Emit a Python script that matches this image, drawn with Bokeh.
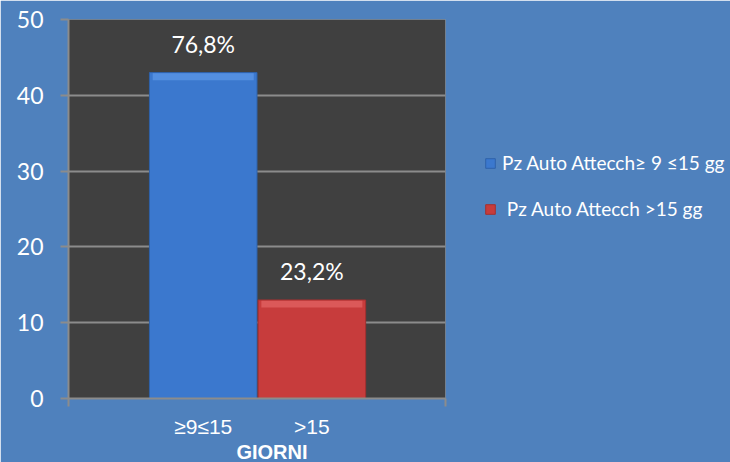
from bokeh.plotting import figure
from bokeh.models import Range1d, FixedTicker, Legend, LegendItem, LinearAxis
from bokeh.embed import file_html
from bokeh.resources import INLINE
from bokeh.core.properties import value

categories = ["≥9≤15", ">15"]
series_names = ["Pz Auto Attecch≥ 9 ≤15 gg", "\u2005Pz Auto Attecch >15 gg"]
counts = [43, 13]
percent_labels = ["76,8%", "23,2%"]
y_ticks = [0, 10, 20, 30, 40, 50]
x_title = "\u2003\u2002GIORNI"

bar_colors = ["#3B78CE", "#C73C3C"]
bevel_colors = ["#5A95E6", "#E06060"]
edge_colors = ["#2F62AA", "#A33030"]

BG = "#4F81BD"
FRAME = "#404040"
GRID = "#8C8C8C"

x_left, x_right = -1.24, 2.23

p = figure(frame_width=377, frame_height=379,
           x_range=Range1d(x_left, x_right), y_range=Range1d(0, 50),
           output_backend="svg", toolbar_location=None,
           min_border_left=68, min_border_right=285,
           min_border_top=19, min_border_bottom=64)
p.border_fill_color = BG
p.background_fill_color = FRAME
p.outline_line_color = None

# x axis: only frame-edge ticks
p.xaxis.ticker = FixedTicker(ticks=[x_left, x_right])
p.xaxis.major_label_text_font_size = "0px"
p.xaxis.major_label_standoff = 0
p.xaxis.major_tick_out = 8
p.xaxis.major_tick_in = 0
p.xaxis.minor_tick_line_color = None
p.xaxis.axis_line_color = GRID
p.xaxis.axis_line_width = 2
p.xaxis.major_tick_line_color = GRID
p.xaxis.major_tick_line_width = 2
p.xgrid.grid_line_color = None

# second x axis carrying the category labels and title
cat_axis = LinearAxis(ticker=FixedTicker(ticks=list(range(len(categories)))),
                      major_label_overrides={i: c for i, c in enumerate(categories)},
                      axis_line_color=None, major_tick_line_color=None,
                      minor_tick_line_color=None, major_tick_out=0, major_tick_in=0,
                      major_label_standoff=8,
                      major_label_text_font="Liberation Sans",
                      major_label_text_font_size="21px",
                      major_label_text_color="white",
                      axis_label=x_title, axis_label_standoff=0,
                      axis_label_text_font="Liberation Sans",
                      axis_label_text_font_size="20px",
                      axis_label_text_font_style="bold",
                      axis_label_text_color="white")
p.add_layout(cat_axis, "below")

p.yaxis.ticker = FixedTicker(ticks=y_ticks)
p.yaxis.major_label_text_font = "Lato"
p.yaxis.major_label_text_font_size = "23px"
p.yaxis.major_label_text_color = "white"
p.yaxis.major_tick_out = 8
p.yaxis.major_tick_in = 0
p.yaxis.minor_tick_line_color = None
p.yaxis.axis_line_color = GRID
p.yaxis.axis_line_width = 2
p.yaxis.major_tick_line_color = GRID
p.yaxis.major_tick_line_width = 2
p.yaxis.major_label_standoff = 17
p.ygrid.grid_line_color = GRID
p.ygrid.grid_line_width = 2
p.ygrid.ticker = FixedTicker(ticks=y_ticks)

bw = 0.99
items = []
for i, (c, name) in enumerate(zip(counts, series_names)):
    r = p.vbar(x=[i], top=[c], bottom=0, width=bw,
               fill_color=bar_colors[i], line_color=edge_colors[i], line_width=1)
    p.quad(left=[i - bw / 2 + 0.03], right=[i + bw / 2 - 0.03],
           top=[c - 0.1], bottom=[c - 1.0],
           fill_color=bevel_colors[i], line_color=None, fill_alpha=0.8)
    items.append(LegendItem(label=name, renderers=[r]))

p.text(x=list(range(len(counts))), y=counts, text=percent_labels,
       text_align="center", text_baseline="alphabetic", y_offset=-29,
       text_color="white", text_font=value("Lato"), text_font_size="23px")

legend = Legend(items=items, location=(39, 178),
                background_fill_alpha=0, border_line_color=None,
                label_text_color="white", label_text_font="Lato",
                label_text_font_size="19px",
                glyph_width=12, glyph_height=12, label_standoff=6,
                spacing=23, padding=0, margin=0, label_height=22)
p.add_layout(legend, "right")

open("out.html", "w").write(file_html(p, INLINE))
